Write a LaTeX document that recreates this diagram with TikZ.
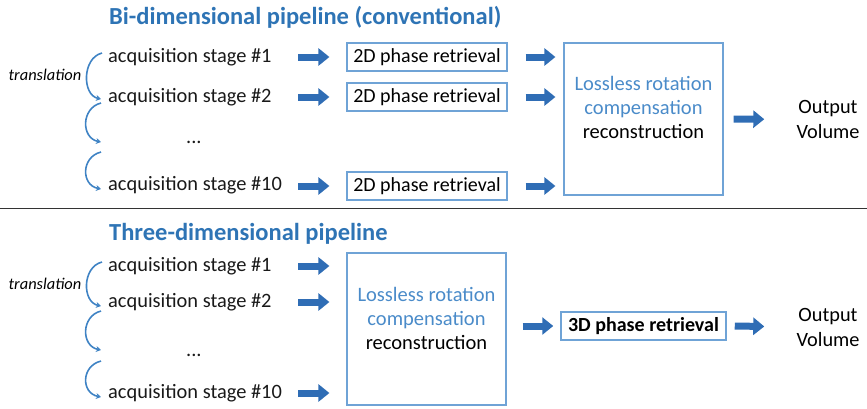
\documentclass[tikz,border=0pt]{standalone}
\usepackage{fontspec}
\setmainfont{Carlito}
\usetikzlibrary{arrows.meta}
\definecolor{tblue}{HTML}{2E74B5}
\definecolor{ablue}{HTML}{2F6DB5}
\definecolor{bblue}{HTML}{6FA3D6}
\definecolor{lblue}{HTML}{4A8BC9}
\definecolor{cblue}{HTML}{3F83C4}
\begin{document}
\begin{tikzpicture}[x=1pt,y=-1pt,
 title/.style={anchor=west,font=\fontsize{24.5}{28}\selectfont\bfseries,text=tblue,inner sep=0},
 stage/.style={anchor=west,font=\fontsize{20.4}{24}\selectfont,inner sep=0,text=black!90},
 barrow/.style={ablue,line width=7pt,-{Triangle[length=11pt,width=17pt]}},
 pbox/.style={draw=bblue,line width=1.2pt,minimum width=160pt,minimum height=28pt,font=\fontsize{20}{24}\selectfont,inner sep=0},
 bigbox/.style={draw=bblue,line width=1.2pt,minimum width=159pt,inner sep=0},
 boxtext/.style={align=center,font=\fontsize{20.5}{24}\selectfont,inner sep=0},
 outtext/.style={align=center,font=\fontsize{20.3}{25}\selectfont,inner sep=0},
 trans/.style={cblue,line width=1.6pt,-{Stealth[length=5pt,width=6pt]}},
 translab/.style={font=\fontsize{16.4}{19}\selectfont\itshape,inner sep=0},
]
\useasboundingbox (0,0) rectangle (867,408);
% ---------- top ----------
\node[title] (t1) at (109,17) {Bi-dimensional pipeline (conventional)};
\node[stage] (s1) at (108,57) {acquisition stage \#1};
\node[stage] (s2) at (108,97) {acquisition stage \#2};
\node[stage] (sd) at (186,142) {...};
\node[stage] (s3) at (108,185) {acquisition stage \#10};
\node[translab] (tr1) at (45,75) {translation};
\coordinate (c1a) at (102,53); \coordinate (c1b) at (101,99);
\coordinate (c2a) at (101,103); \coordinate (c2b) at (101,142);
\coordinate (c3a) at (101,152); \coordinate (c3b) at (101,189);
\draw[trans] (c1a) .. controls (82,58) and (82,95) .. (c1b);
\draw[trans] (c2a) .. controls (81,108) and (81,138) .. (c2b);
\draw[trans] (c3a) .. controls (81,157) and (81,185) .. (c3b);
\node[pbox] (p1) at (427,57) {2D phase retrieval};
\node[pbox] (p2) at (427,97) {2D phase retrieval};
\node[pbox] (p3) at (427,186) {2D phase retrieval};
\coordinate (a1) at (298,57); \coordinate (a2) at (298,97); \coordinate (a3) at (298,186);
\draw[barrow] (a1) -- ([xshift=-17pt]p1.west);
\draw[barrow] (a2) -- ([xshift=-17pt]p2.west);
\draw[barrow] (a3) -- ([xshift=-17pt]p3.west);
\node[bigbox,minimum height=152pt] (r1) at (643.5,119) {};
\node[boxtext] (r1t) at (643.5,107) {\textcolor{lblue}{Lossless rotation}\\\textcolor{lblue}{compensation}\\reconstruction};
\draw[barrow] ([xshift=18pt]p1.east) -- ([xshift=-8pt]r1.west |- p1.east);
\draw[barrow] ([xshift=18pt]p2.east) -- ([xshift=-8pt]r1.west |- p2.east);
\draw[barrow] ([xshift=18pt]p3.east) -- ([xshift=-8pt]r1.west |- p3.east);
\node[outtext] (o1) at (828,119.5) {Output\\Volume};
\draw[barrow,shorten >=32pt] ([xshift=10pt]r1.east) -- (o1.west);
% ---------- separator ----------
\coordinate (l1) at (0,208.5); \coordinate (l2) at (867,208.5);
\draw[line width=1.5pt,black!80] (l1) -- (l2);
% ---------- bottom ----------
\node[title] (t2) at (109,234) {Three-dimensional pipeline};
\node[stage] (b1) at (108,266) {acquisition stage \#1};
\node[stage] (b2) at (108,302) {acquisition stage \#2};
\node[stage] (bd) at (186,355) {...};
\node[stage] (b3) at (108,393) {acquisition stage \#10};
\node[translab] (tr2) at (45,284) {translation};
\coordinate (d1a) at (102,262); \coordinate (d1b) at (101,306);
\coordinate (d2a) at (101,311); \coordinate (d2b) at (101,350);
\coordinate (d3a) at (101,361); \coordinate (d3b) at (101,397);
\draw[trans] (d1a) .. controls (82,267) and (82,302) .. (d1b);
\draw[trans] (d2a) .. controls (81,316) and (81,346) .. (d2b);
\draw[trans] (d3a) .. controls (81,366) and (81,393) .. (d3b);
\node[bigbox,minimum height=152pt] (r2) at (426.5,329) {};
\node[boxtext] (r2t) at (426.5,318) {\textcolor{lblue}{Lossless rotation}\\\textcolor{lblue}{compensation}\\reconstruction};
\coordinate (e1) at (298,266); \coordinate (e2) at (298,302); \coordinate (e3) at (298,393);
\draw[barrow] (e1) -- ([xshift=-17pt]r2.west |- e1);
\draw[barrow] (e2) -- ([xshift=-17pt]r2.west |- e2);
\draw[barrow] (e3) -- ([xshift=-17pt]r2.west |- e3);
\node[pbox,minimum width=165pt,line width=1.5pt,font=\fontsize{20}{24}\selectfont\bfseries] (q) at (643.5,326) {3D phase retrieval};
\draw[barrow] ([xshift=16pt]r2.east |- q.west) -- ([xshift=-7pt]q.west);
\node[outtext] (o2) at (828,327) {Output\\Volume};
\draw[barrow,shorten >=32pt] ([xshift=8pt]q.east) -- (o2.west);
\end{tikzpicture}
\end{document}
